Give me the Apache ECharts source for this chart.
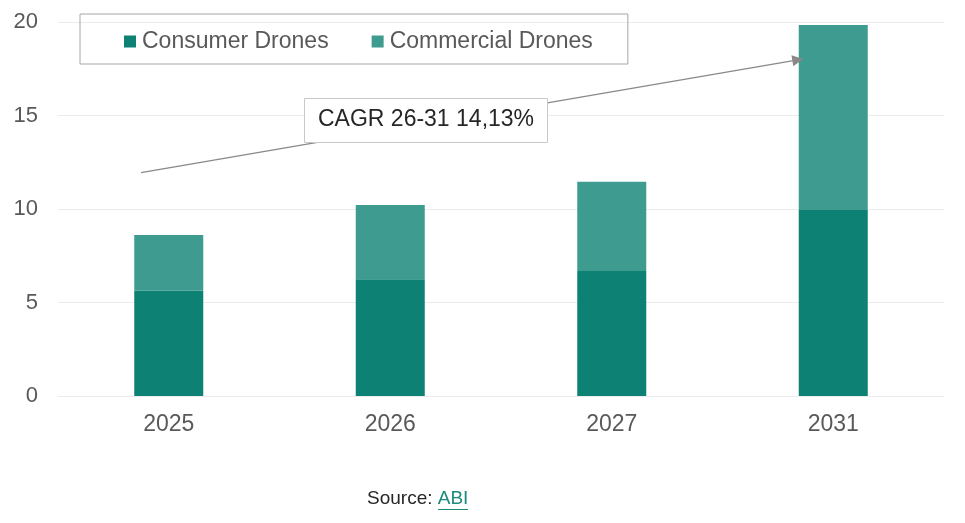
<!DOCTYPE html>
<html lang="en">
<head>
    <meta charset="utf-8">
    <script src="https://cdn.jsdelivr.net/npm/echarts@6/dist/echarts.min.js"></script>
    <style>
        html, body { margin: 0; padding: 0; background: #fff; }
        #chart { width: 965px; height: 523px; }
    </style>
</head>
<body>
<div id="chart"></div>
<script>
    // data
    var years = ['2025', '2026', '2027', '2031'];
    var consumer = [5.64, 6.25, 6.69, 9.96];
    var commercial = [2.98, 3.97, 4.78, 9.90];
    var yTicks = [0, 5, 10, 15, 20];
    // CAGR arrow, from / to in (category index, value)
    var arrowFrom = [-0.125, 11.95];
    var arrowTo = [2.84, 17.99];
    var cagrText = 'CAGR 26-31 14,13%';

    var chart = echarts.init(document.getElementById('chart'));
    var option = {
        animation: false,
        textStyle: { fontFamily: 'Liberation Sans, Arial, sans-serif' },
        legend: {
            data: ['Consumer Drones', 'Commercial Drones'],
            left: 80,
            top: 14,
            padding: [16, 35, 11, 44],
            itemGap: 43,
            itemWidth: 12,
            itemHeight: 12,
            icon: 'rect',
            borderColor: '#a6a6a6',
            borderWidth: 1,
            textStyle: { fontSize: 23, color: '#595959', padding: [0, 0, 0, 1] }
        },
        grid: { left: 58, right: 21, top: 22.3, bottom: 127 },
        xAxis: [
            {
                type: 'category',
                data: years,
                axisLine: { show: false },
                axisTick: { show: false },
                axisLabel: { fontSize: 23, color: '#595959', margin: 17 }
            },
            { type: 'value', min: -0.5, max: 3.5, show: false }
        ],
        yAxis: {
            type: 'value',
            min: yTicks[0],
            max: yTicks[yTicks.length - 1],
            interval: 5,
            axisLine: { show: false },
            axisTick: { show: false },
            axisLabel: { fontSize: 22, color: '#595959', margin: 20 },
            splitLine: { lineStyle: { color: '#ebebeb', width: 1 } }
        },
        series: [
            {
                name: 'Consumer Drones',
                type: 'bar',
                stack: 'total',
                barWidth: 69,
                data: consumer,
                itemStyle: { color: '#0d8174' }
            },
            {
                name: 'Commercial Drones',
                type: 'bar',
                stack: 'total',
                barWidth: 69,
                data: commercial,
                itemStyle: { color: '#3d9b8f' }
            },
            {
                name: 'cagr',
                type: 'line',
                xAxisIndex: 1,
                z: 3,
                data: [arrowFrom, arrowTo],
                showSymbol: false,
                lineStyle: { opacity: 0 },
                silent: true,
                markLine: {
                    silent: true,
                    symbol: ['none', 'triangle'],
                    symbolSize: 11,
                    label: { show: false },
                    lineStyle: { color: '#8c8888', width: 1.3, type: 'solid' },
                    data: [[{ coord: arrowFrom }, { coord: arrowTo }]]
                }
            }
        ],
        graphic: [
            {
                type: 'rect',
                left: 304,
                top: 98,
                z: 100,
                shape: { width: 243, height: 44 },
                style: { fill: '#fff', stroke: '#c8c8c8', lineWidth: 1 }
            },
            {
                type: 'text',
                left: 318,
                top: 108,
                z: 101,
                style: {
                    text: cagrText,
                    fill: '#262626',
                    font: '23px "Liberation Sans", Arial, sans-serif'
                }
            },
            {
                type: 'text',
                left: 367,
                top: 489,
                z: 100,
                style: {
                    text: '{a|Source: }{b|ABI}',
                    font: '19px "Liberation Sans", Arial, sans-serif',
                    rich: {
                        a: { fill: '#262626', fontSize: 19 },
                        b: { fill: '#1a8a7b', fontSize: 19 }
                    }
                }
            },
            {
                type: 'line',
                z: 100,
                shape: { x1: 438, y1: 509.5, x2: 468, y2: 509.5 },
                style: { stroke: '#1a8a7b', lineWidth: 1 }
            }
        ]
    };
    chart.setOption(option);
</script>
</body>
</html>
